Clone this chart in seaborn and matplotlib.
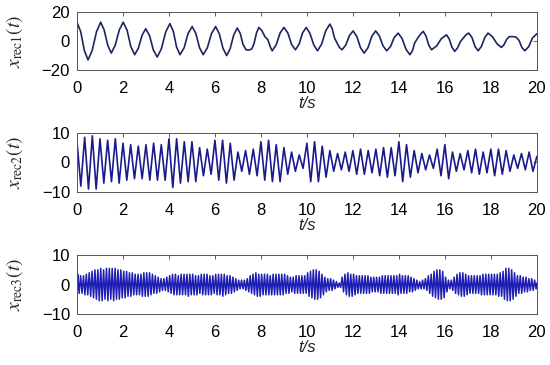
import numpy as np
import pandas as pd
import matplotlib
matplotlib.use("Agg")
import matplotlib.pyplot as plt
import seaborn as sns

# signal 1: points (time in s, value)
t1 = [0.0, 0.16, 0.32, 0.48,
      0.66, 0.85, 1.03,
      1.18, 1.34, 1.49,
      1.66, 1.84, 2.01,
      2.18, 2.34, 2.51,
      2.67, 2.83, 2.99,
      3.16, 3.32, 3.49,
      3.67, 3.86, 4.04,
      4.19, 4.33, 4.48,
      4.66, 4.83, 5.01,
      5.17, 5.33, 5.49,
      5.67, 5.85, 6.03,
      6.19, 6.35, 6.51,
      6.66, 6.82, 6.97,
      7.1, 7.22, 7.35,
      7.48, 7.6,
      7.7, 7.81, 7.91,
      8.04, 8.17, 8.3,
      8.42, 8.49,
      8.66, 8.83, 9.0,
      9.17, 9.33, 9.5,
      9.66, 9.81, 9.97,
      10.13, 10.3, 10.46,
      10.64, 10.82, 11.0,
      11.1, 11.2, 11.3,
      11.42, 11.53,
      11.69, 11.85, 12.01,
      12.17, 12.33, 12.49,
      12.66, 12.82, 12.99,
      13.15, 13.31, 13.47,
      13.64, 13.8, 13.97,
      14.14, 14.31, 14.48,
      14.59, 14.69, 14.8,
      14.93, 15.06,
      15.18, 15.3, 15.42,
      15.64, 15.85, 16.07,
      16.19, 16.31, 16.43,
      16.55, 16.68, 16.8,
      16.92, 17.04,
      17.18, 17.31, 17.45,
      17.59, 17.74, 17.88,
      18.07, 18.27, 18.46,
      18.57, 18.69, 18.8,
      18.95, 19.1,
      19.23, 19.35, 19.48,
      19.65, 19.81, 20.0]
x1 = [13, 6.5, -6.5, -13,
      -6.5, 6.5, 13,
      7.7, -3.0, -8.3,
      -3.0, 7.7, 13,
      7.4, -3.8, -9.4,
      -4.9, 4.0, 8.5,
      3.6, -6.1, -11,
      -5.3, 6.3, 12,
      6.7, -4.1, -9.4,
      -4.6, 5.2, 10,
      5.2, -4.6, -9.4,
      -4.6, 5.2, 10,
      5, -5, -10,
      -5.3, 4.3, 9,
      5.3, -2.3, -6,
      -6.2, -5.5,
      -1.8, 5.7, 9.4,
      7.3, 3.1, 1,
      -4.5, -6.7,
      -2.7, 5.4, 9.4,
      5.6, -2.2, -6,
      -2.2, 5.6, 9.4,
      5.4, -2.7, -6.7,
      -2.1, 7.1, 11.7,
      8.5, 2.2, -1,
      -4.5, -6,
      -2.8, 3.8, 7,
      3.2, -4.5, -8.3,
      -4.5, 3.2, 7,
      3.6, -3.3, -6.7,
      -3.7, 2.5, 5.5,
      1.8, -5.7, -9.4,
      -6.7, -1.2, 1.5,
      4.5, 6.7,
      3.5, -2.8, -6,
      -3.4, 1.7, 4.3,
      1.5, -4.3, -7.1,
      -4.8, -0.3, 2,
      4.3, 5.5,
      2.5, -3.7, -6.7,
      -3.7, 2.5, 5.5,
      3.0, -1.9, -4.4,
      -2.6, 1.2, 3,
      3.1, 2.7,
      0.4, -4.4, -6.7,
      -3.8, 2.1, 5]

# signal 2: ~3 Hz, one peak and one trough per cycle
x2_peaks = [7, 8.5, 9, 8, 7.5, 8, 6.5, 6, 5.5, 6, 6.5, 6,
            8, 8, 7, 7, 5, 4.5, 7.5, 7.5, 6.5, 3.5, 4, 4.5,
            7, 7.5, 6, 5, 3.5, 2.5, 6.5, 7, 5.5, 4, 3, 3.5,
            4, 4.5, 4, 4.5, 5, 5, 7, 6, 4, 3, 2.5, 4.5,
            6, 3.5, 3, 4, 4.5, 3.5, 4.5, 4.5, 4, 2.5, 3, 3.5, 2]
x2_troughs = [-8, -9, -9, -7, -6.5, -7, -6, -5.5, -5.5, -6, -6, -6,
              -8.5, -7, -6.5, -6.5, -4.5, -4, -6, -7, -6, -3, -4, -4.5,
              -6, -6.5, -6.5, -4, -3, -2, -6.5, -6.5, -5, -3, -2.5, -3,
              -4, -4, -3.5, -4.5, -5, -4.5, -6.5, -5, -3.5, -2.5, -2, -4.5,
              -5.5, -3, -2.5, -3.5, -4, -3.5, -4.5, -4, -3, -2, -2.5, -3]

# signal 3: ~8 Hz, four cycles per half second
x3_peaks = [3.5, 3, 3, 3.5, 4, 4.5, 5, 5, 5.5, 5, 5.5, 5.5, 5.5, 5.5, 5, 5,
            4.5, 4.5, 4, 4, 3.5, 3.5, 3.5, 4, 4, 4, 3.5, 3, 2.5, 2, 2, 2.5,
            3, 3.5, 3.5, 3, 3.5, 3.5, 3.5, 3.5, 3.5, 3, 3, 3.5, 3.5, 3.5, 3, 3,
            3.5, 3.5, 3.5, 3.5, 3, 3, 2.5, 2, 1.5, 1.5, 1.5, 2, 3, 3.5, 4, 3.5,
            3.5, 3.5, 3.5, 3, 3.5, 3.5, 3.5, 3.5, 3.5, 3, 2.5, 2.5, 3, 3, 3, 3,
            4, 4.5, 5, 5, 4.5, 3.5, 2.5, 2, 2, 1.5, 1, 0.5, 2.5, 3.5, 4, 3.5,
            3.5, 3, 3, 3, 3, 3, 2.5, 2.5, 2.5, 2.5, 3, 3, 3, 3, 3, 3,
            3.5, 3, 3, 3, 2.5, 2, 1.5, 1, 1.5, 2, 3, 3.5, 4.5, 5, 5, 4.5,
            2.5, 1.5, 1.5, 2.5, 3.5, 4, 4, 3.5, 3, 3, 3, 3, 3, 3.5, 3.5, 3.5,
            3.5, 3.5, 3.5, 4, 4.5, 5.5, 5.5, 5, 4, 3, 3, 2.5, 2.5, 2, 2, 1.5]
x3_troughs = [-3, -3, -3.5, -3.5, -4, -4.5, -5, -5.5, -5.5, -5, -5.5, -5, -5.5, -5, -5, -4.5,
              -4.5, -4, -4, -3.5, -3.5, -3.5, -4, -4, -4, -3.5, -3, -3, -2.5, -2, -2, -2.5,
              -3, -3.5, -3.5, -3.5, -3.5, -3.5, -4, -3.5, -3.5, -3.5, -3, -3.5, -3.5, -3.5, -3.5, -3,
              -3.5, -3.5, -4, -3.5, -3, -3, -2.5, -2, -1.5, -1.5, -2, -2.5, -3, -3.5, -4, -4,
              -3.5, -3.5, -3.5, -3.5, -3.5, -3.5, -3.5, -3.5, -3, -3, -2.5, -3, -3, -3, -3, -3,
              -4, -4.5, -5, -5, -4.5, -3.5, -2.5, -2, -2, -1.5, -1, -1, -2.5, -3.5, -4, -4,
              -3.5, -3, -3, -3, -3, -3, -2.5, -2.5, -2.5, -3, -3, -3, -3, -3, -3, -3.5,
              -3, -3, -3, -2.5, -2.5, -2, -1.5, -1.5, -1.5, -2, -3, -4, -4.5, -5, -5, -4.5,
              -2.5, -1.5, -2, -3, -3.5, -4, -4, -3.5, -3, -3, -3, -3, -3.5, -3.5, -3.5, -3.5,
              -3.5, -3.5, -4, -4, -5, -5.5, -5.5, -5, -4, -3, -3, -2.5, -2.5, -2, -2, -1.5]

ylabels = [r"$x_{\rm rec1}(t)$", r"$x_{\rm rec2}(t)$", r"$x_{\rm rec3}(t)$"]
xticks = list(range(0, 21, 2))

# build the series
s1 = pd.DataFrame({"t": t1, "x": x1})

v2 = np.empty(len(x2_peaks) + len(x2_troughs))
v2[0::2] = x2_peaks
v2[1::2] = x2_troughs
s2 = pd.DataFrame({"t": np.arange(len(v2)) / 6, "x": v2})

n3 = len(x3_peaks)
t3 = np.empty(2 * n3)
t3[0::2] = (np.arange(n3) + 0.25) / 8
t3[1::2] = (np.arange(n3) + 0.75) / 8
v3 = np.empty(2 * n3)
v3[0::2] = x3_peaks
v3[1::2] = x3_troughs
s3 = pd.DataFrame({"t": np.concatenate([[0.0], t3, [20.0]]),
                   "x": np.concatenate([[0.0], v3, [0.5]])})

sns.set_style("white")
plt.rcParams["font.family"] = ["Liberation Sans", "DejaVu Sans"]
plt.rcParams["mathtext.fontset"] = "stix"

fig = plt.figure(figsize=(5.5, 3.65), dpi=100)
boxes = [[0.14, 0.808, 0.836, 0.159],
         [0.14, 0.474, 0.836, 0.162],
         [0.14, 0.140, 0.836, 0.161]]
series = [s1, s2, s3]
colors = ["#1b2660", "#1a1a8c", "#1e1eb4"]
widths = [1.2, 1.2, 1.1]
ylims = [(-20, 20), (-10, 10), (-10, 10)]
yticks = [[-20, 0, 20], [-10, 0, 10], [-10, 0, 10]]

for box, df, col, lw, yl, yt, lab in zip(boxes, series, colors, widths, ylims, yticks, ylabels):
    ax = fig.add_axes(box)
    sns.lineplot(data=df, x="t", y="x", ax=ax, color=col, linewidth=lw,
                 estimator=None, sort=False)
    ax.set_xlim(0, 20)
    ax.set_ylim(*yl)
    ax.set_xticks(xticks)
    ax.set_yticks(yt)
    ax.tick_params(direction="in", top=True, right=True, length=3, width=0.6,
                   labelsize=12, color="#444444", labelcolor="black")
    ax.tick_params(axis="x", pad=8)
    ax.tick_params(axis="y", pad=5)
    for sp in ax.spines.values():
        sp.set_color("#555555")
        sp.set_linewidth(0.7)
    ax.set_xlabel("t/s", fontsize=12, fontstyle="italic", labelpad=0)
    ax.set_ylabel(lab, fontsize=14)
    ax.yaxis.set_label_coords(-0.113, 0.5)

fig.savefig("out.png", dpi=100)
